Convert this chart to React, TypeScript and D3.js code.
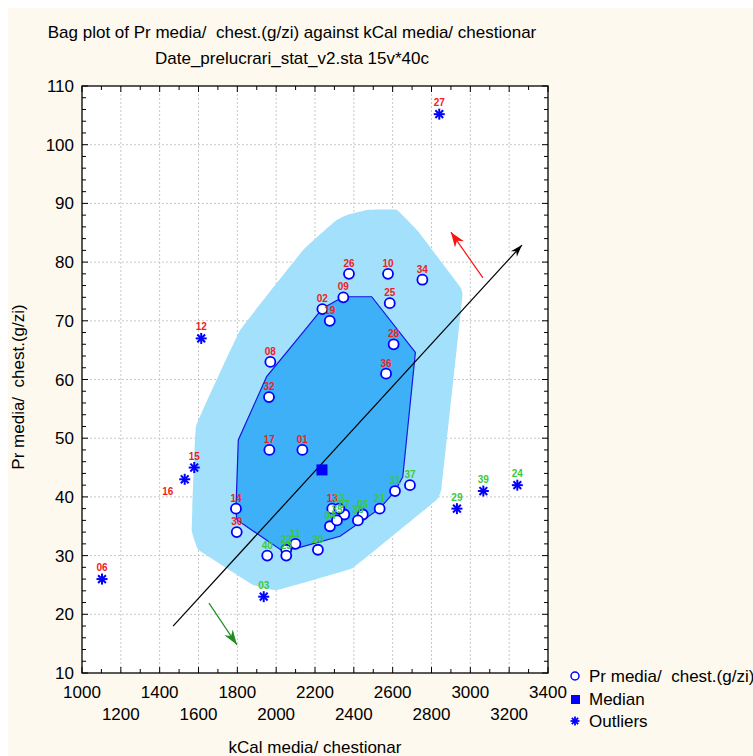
import React from "react";
import * as d3 from "d3";

const titleLine1 = "Bag plot of Pr media/  chest.(g/zi) against kCal media/ chestionar";
const titleLine2 = "Date_prelucrari_stat_v2.sta 15v*40c";
const xAxisTitle = "kCal media/ chestionar";
const yAxisTitle = "Pr media/  chest.(g/zi)";

const xTicksRow1 = [1000, 1400, 1800, 2200, 2600, 3000, 3400];
const xTicksRow2 = [1200, 1600, 2000, 2400, 2800, 3200];
const yTicks = [10, 20, 30, 40, 50, 60, 70, 80, 90, 100, 110];

// regular points
const pointIds = ["01","02","04","05","07","08","09","10","11","13","14","17","19","20","21","22","23","25","26","28","30","31","32","33","34","35","36","37","38","40"];
const pointKcal = [2135,2238,2277,2446,2351,1970,2346,2576,2099,2289,1793,1965,2276,2215,2533,2052,2052,2585,2375,2605,1797,2612,1963,2325,2753,2313,2566,2689,2421,1954];
const pointProt = [48,72,35,37,37,63,74,78,32,38,38,48,70,31,38,31,30,73,78,66,34,41,57,38,77,36,61,42,36,30];
const pointGroup = ["r","r","g","g","g","r","r","r","g","r","r","r","r","g","g","g","g","r","r","r","r","g","r","g","r","g","r","g","g","g"];

// outliers
const outlierIds = ["03","06","12","15","16","24","27","29","39"];
const outlierKcal = [1936,1103,1614,1578,1529,3242,2840,2931,3067];
const outlierProt = [23,26,67,45,43,42,105.2,38,41];
const outlierGroup = ["g","r","r","r","r","g","r","g","g"];

const medianKcal = 2236;
const medianProt = 44.6;

// bag (inner polygon)
const bagKcal = [2346,2492,2717,2652,2612,2533,2329,2099,2023,1797,1793,1805,1951,2140,2238];
const bagProt = [74.1,74.1,64.6,43.4,41,38,33.3,31.2,31,36.1,38,49.7,60.5,68.1,72.1];

// fence (outer loop)
const loopKcal = [2363,2474,2621,2732,2947,2959,2852,2827,2638,2389,2003,1882,1599,1565,1587,1814,2140,2312];
const loopProt = [88.0,88.9,88.9,85.2,75.8,74.1,41.5,39.5,34.4,27.8,24.1,25,31,34.4,52,68.4,82.1,87.2];

// direction arrows
const axisArrow = { kcal: [1469, 3266], prot: [18, 82.9] };
const redArrow = { kcal: [3065, 2900], prot: [77.3, 85.1] };
const greenArrow = { kcal: [1654, 1798], prot: [21.9, 14.8] };

const FONT = "'Liberation Sans', Arial, sans-serif";
const RED = "#f02020";
const GREEN = "#3cc83c";
const BLUE = "#0000ff";

function Star({ x, y, r, sw }: { x: number; y: number; r: number; sw: number }) {
  const d = r * 0.7071;
  return (
    <g stroke={BLUE} strokeWidth={sw}>
      <line x1={x - r} y1={y} x2={x + r} y2={y} />
      <line x1={x} y1={y - r} x2={x} y2={y + r} />
      <line x1={x - d} y1={y - d} x2={x + d} y2={y + d} />
      <line x1={x - d} y1={y + d} x2={x + d} y2={y - d} />
    </g>
  );
}

function headPoints(x1: number, y1: number, x2: number, y2: number, len: number, w: number) {
  const a = Math.atan2(y2 - y1, x2 - x1);
  const bx = x2 - len * Math.cos(a);
  const by = y2 - len * Math.sin(a);
  const nx = -Math.sin(a) * w / 2;
  const ny = Math.cos(a) * w / 2;
  const ix = x2 - len * 0.7 * Math.cos(a);
  const iy = y2 - len * 0.7 * Math.sin(a);
  return `${x2},${y2} ${bx + nx},${by + ny} ${ix},${iy} ${bx - nx},${by - ny}`;
}

export default function App() {
  const left = 82, right = 548, top = 86, bottom = 673;
  const x = d3.scaleLinear().domain([1000, 3400]).range([left, right]);
  const y = d3.scaleLinear().domain([10, 110]).range([bottom, top]);

  const lineGen = d3.line<[number, number]>().x(d => x(d[0])).y(d => y(d[1])).curve(d3.curveLinearClosed);
  const bagPath = lineGen(bagKcal.map((k, i) => [k, bagProt[i]] as [number, number])) || "";
  const loopPath = d3.line<[number, number]>().x(d => x(d[0])).y(d => y(d[1])).curve(d3.curveCardinalClosed.tension(0.85))(
    loopKcal.map((k, i) => [k, loopProt[i]] as [number, number])
  ) || "";

  const xMinor = d3.range(1000, 3401, 100);
  const yMinor = d3.range(10, 111, 2);
  const xGrid = d3.range(1200, 3300, 200);
  const yGrid = d3.range(20, 110, 10);

  const arrow = (a: { kcal: number[]; prot: number[] }, color: string, len: number, w: number) => {
    const x1 = x(a.kcal[0]), y1 = y(a.prot[0]), x2 = x(a.kcal[1]), y2 = y(a.prot[1]);
    return (
      <g>
        <line x1={x1} y1={y1} x2={x2} y2={y2} stroke={color} strokeWidth={1.2} />
        <polygon points={headPoints(x1, y1, x2, y2, len, w)} fill={color} />
      </g>
    );
  };

  const labelOffset: Record<string, [number, number]> = { "16": [-17, 16] };
  const pre = { whiteSpace: "pre" as const };

  return (
    <svg width={753} height={756} style={{ position: "absolute", left: 0, top: 0 }} fontFamily={FONT}>
      <rect x={0} y={0} width={753} height={756} fill="#ffffff" />
      <rect x={8} y={8} width={745} height={748} fill="#fdf9ee" />
      <rect x={left} y={top} width={right - left} height={bottom - top} fill="#ffffff" />

      {/* grid */}
      <g stroke="#c8c8c8" strokeWidth={1} strokeDasharray="2,2">
        {xGrid.map(v => <line key={"gx" + v} x1={x(v)} x2={x(v)} y1={top} y2={bottom} />)}
        {yGrid.map(v => <line key={"gy" + v} x1={left} x2={right} y1={y(v)} y2={y(v)} />)}
      </g>

      {/* loop and bag */}
      <path d={loopPath} fill="#a2e0fb" />
      <path d={bagPath} fill="#3db0f8" stroke="#1515e0" strokeWidth={1.2} />

      {/* arrows */}
      {arrow(axisArrow, "#000000", 12, 8)}
      {arrow(redArrow, "#ff1010", 15, 11)}
      {arrow(greenArrow, "#228b22", 15, 10)}

      {/* points */}
      {pointIds.map((id, i) => (
        <circle key={"p" + id} cx={x(pointKcal[i])} cy={y(pointProt[i])} r={5} fill="#ffffff" stroke={BLUE} strokeWidth={1.8} />
      ))}
      {outlierIds.map((id, i) => (
        <Star key={"o" + id} x={x(outlierKcal[i])} y={y(outlierProt[i])} r={5.5} sw={2} />
      ))}
      <rect x={x(medianKcal) - 5.5} y={y(medianProt) - 5.5} width={11} height={11} fill={BLUE} />

      {/* labels */}
      <g fontSize={10} textAnchor="middle" fontWeight="bold">
        {pointIds.map((id, i) => (
          <text key={"pl" + id} x={x(pointKcal[i])} y={y(pointProt[i]) - 7} fill={pointGroup[i] === "r" ? RED : GREEN}>{id}</text>
        ))}
        {outlierIds.map((id, i) => {
          const off = labelOffset[id] || [0, -8];
          return (
            <text key={"ol" + id} x={x(outlierKcal[i]) + off[0]} y={y(outlierProt[i]) + off[1]} fill={outlierGroup[i] === "r" ? RED : GREEN}>{id}</text>
          );
        })}
      </g>

      {/* ticks */}
      <g stroke="#000" strokeWidth={1}>
        {xMinor.map(v => (
          <g key={"xt" + v}>
            <line x1={x(v)} x2={x(v)} y1={bottom} y2={bottom - (v % 200 === 0 ? 6 : 4)} />
            <line x1={x(v)} x2={x(v)} y1={top} y2={top + (v % 200 === 0 ? 6 : 4)} />
          </g>
        ))}
        {yMinor.map(v => (
          <g key={"yt" + v}>
            <line x1={left} x2={left + (v % 10 === 0 ? 6 : 4)} y1={y(v)} y2={y(v)} />
            <line x1={right} x2={right - (v % 10 === 0 ? 6 : 4)} y1={y(v)} y2={y(v)} />
          </g>
        ))}
      </g>
      <rect x={left} y={top} width={right - left} height={bottom - top} fill="none" stroke="#000" strokeWidth={1.3} />

      {/* tick labels */}
      <g fontSize={17} fill="#000">
        {xTicksRow1.map(v => <text key={"xl1" + v} x={x(v)} y={698} textAnchor="middle">{v}</text>)}
        {xTicksRow2.map(v => <text key={"xl2" + v} x={x(v)} y={720} textAnchor="middle">{v}</text>)}
        {yTicks.map(v => <text key={"yl" + v} x={74} y={y(v) + 6} textAnchor="end">{v}</text>)}
      </g>

      {/* axis titles */}
      <text x={315} y={753} fontSize={17} textAnchor="middle" fill="#000">{xAxisTitle}</text>
      <text transform="translate(24,387) rotate(-90)" fontSize={17} textAnchor="middle" fill="#000" style={pre}>{yAxisTitle}</text>

      {/* title */}
      <text x={292} y={38} fontSize={17} textAnchor="middle" fill="#000" style={pre}>{titleLine1}</text>
      <text x={292} y={64} fontSize={17} textAnchor="middle" fill="#000">{titleLine2}</text>

      {/* legend */}
      <circle cx={575} cy={676} r={4} fill="#fff" stroke={BLUE} strokeWidth={1.5} />
      <text x={589} y={682} fontSize={17} fill="#000" style={pre}>{yAxisTitle}</text>
      <rect x={571} y={695} width={9} height={9} fill={BLUE} />
      <text x={589} y={705} fontSize={17} fill="#000">Median</text>
      <Star x={575} y={721} r={4.5} sw={1.8} />
      <text x={589} y={727} fontSize={17} fill="#000">Outliers</text>
    </svg>
  );
}
